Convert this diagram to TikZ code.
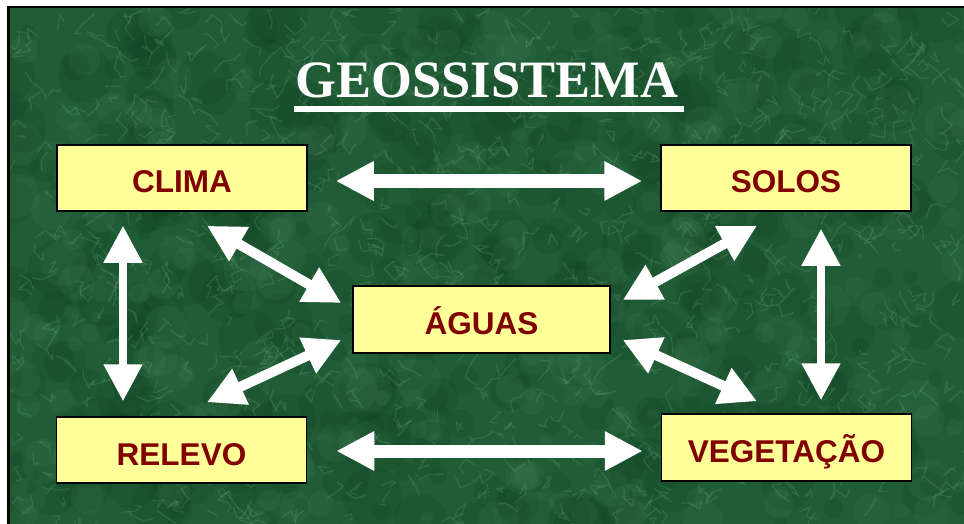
\documentclass[tikz,border=0pt]{standalone}
\usepackage{fontspec}
\setmainfont{Liberation Serif}
\setsansfont{Liberation Sans}
\usetikzlibrary{arrows.meta,calc}
\definecolor{boxfill}{RGB}{255,255,153}
\definecolor{txtred}{RGB}{128,0,0}
\definecolor{bggreen}{RGB}{32,92,54}
\definecolor{veinlight}{RGB}{115,180,130}
\definecolor{darkg}{RGB}{6,46,22}
\begin{document}
\begin{tikzpicture}[x=1pt,y=-1pt,
  box/.style={draw=black, line width=1.5pt, fill=boxfill, minimum width=250pt,
    minimum height=66pt, inner sep=0pt, text height=30pt, text depth=0pt,
    text=txtred, font=\sffamily\bfseries\fontsize{31.5}{31.5}\selectfont},
  hdbl/.style={draw=white, line width=13pt,
    {Triangle[width=37pt,length=38pt]}-{Triangle[width=37pt,length=38pt]}},
  vdbl/.style={draw=white, line width=8pt,
    {Triangle[width=37pt,length=37pt]}-{Triangle[width=37pt,length=37pt]}},
  ddbl/.style={draw=white, line width=10pt,
    {Triangle[width=37pt,length=37pt]}-{Triangle[width=37pt,length=37pt]}}]
\useasboundingbox (0,0) rectangle (964,524);
\fill[white] (0,0) rectangle (964,524);
\fill[bggreen] (9,8) rectangle (964,524);
\begin{scope}
  \clip (9,8) rectangle (964,524);
  \pgfmathsetseed{7}
  \foreach \i in {1,...,420}{
    \pgfmathsetmacro\px{9+955*rnd}
    \pgfmathsetmacro\py{8+516*rnd}
    \pgfmathsetmacro\pr{6+24*rnd}
    \fill[darkg, opacity=0.10] (\px,\py) circle[radius=\pr pt];
  }
  \foreach \i in {1,...,260}{
    \pgfmathsetmacro\px{9+955*rnd}
    \pgfmathsetmacro\py{8+516*rnd}
    \pgfmathsetmacro\pr{5+18*rnd}
    \fill[veinlight, opacity=0.07] (\px,\py) circle[radius=\pr pt];
  }
  \foreach \i in {1,...,900}{
    \pgfmathsetmacro\px{9+955*rnd}
    \pgfmathsetmacro\py{8+516*rnd}
    \pgfmathsetmacro\ax{12*rand}
    \pgfmathsetmacro\ay{12*rand}
    \pgfmathsetmacro\bx{12*rand}
    \pgfmathsetmacro\by{12*rand}
    \pgfmathsetmacro\cx{12*rand}
    \pgfmathsetmacro\cy{12*rand}
    \draw[veinlight, opacity=0.2, line width=1.3pt, line join=round, line cap=round]
      (\px,\py) -- ++(\ax,\ay) -- ++(\bx,\by) -- ++(\cx,\cy);
  }
\end{scope}
\draw[black, line width=2.5pt] (8.25,524) -- (8.25,7) -- (964,7);

\node[font=\fontsize{52.5}{52.5}\selectfont\bfseries, text=white, inner sep=0pt, anchor=base]
  (title) at (487,98) {GEOSSISTEMA};
\fill[white] ($(title.base west)+(-2,8)$) rectangle ($(title.base east)+(6,14)$);

\node[box] (clima) at (182,178) {CLIMA};
\node[box] (solos) at (786,178) {SOLOS};
\node[box, minimum width=257pt, minimum height=67pt] (aguas) at (481.5,319.5) {ÁGUAS};
\node[box] (relevo) at (181.5,450) {RELEVO};
\node[box, minimum height=67pt] (veg) at (786.5,447.5) {VEGETAÇÃO};

\coordinate (c1) at ($(clima.east)+(28,3)$);
\coordinate (s1) at ($(solos.west)+(-18,3)$);
\coordinate (r1) at ($(relevo.east)+(29,1)$);
\coordinate (v1) at ($(veg.west)+(-18,3.5)$);
\coordinate (c2) at ($(clima.south)+(-59,14)$);
\coordinate (r2) at ($(relevo.north)+(-58.5,-15)$);
\coordinate (s2) at ($(solos.south)+(35,17)$);
\coordinate (v2) at ($(veg.north)+(34.5,-13)$);
\coordinate (c3) at ($(clima.south)+(25,14)$);
\coordinate (a3) at ($(aguas.west)+(-11,-16.5)$);
\coordinate (a4) at ($(aguas.east)+(12,-19.5)$);
\coordinate (s4) at ($(solos.south)+(-29,14)$);
\coordinate (a5) at ($(aguas.west)+(-11,20.5)$);
\coordinate (r5) at ($(relevo.north)+(25.5,-14)$);
\coordinate (a6) at ($(aguas.east)+(12,20.5)$);
\coordinate (v6) at ($(veg.north)+(-29.5,-12)$);

\draw[hdbl] (c1) -- (s1);
\draw[hdbl] (r1) -- (v1);
\draw[vdbl] (c2) -- (r2);
\draw[vdbl] (s2) -- (v2);
\draw[ddbl] (c3) -- (a3);
\draw[ddbl] (a4) -- (s4);
\draw[ddbl] (a5) -- (r5);
\draw[ddbl] (a6) -- (v6);
\end{tikzpicture}
\end{document}
